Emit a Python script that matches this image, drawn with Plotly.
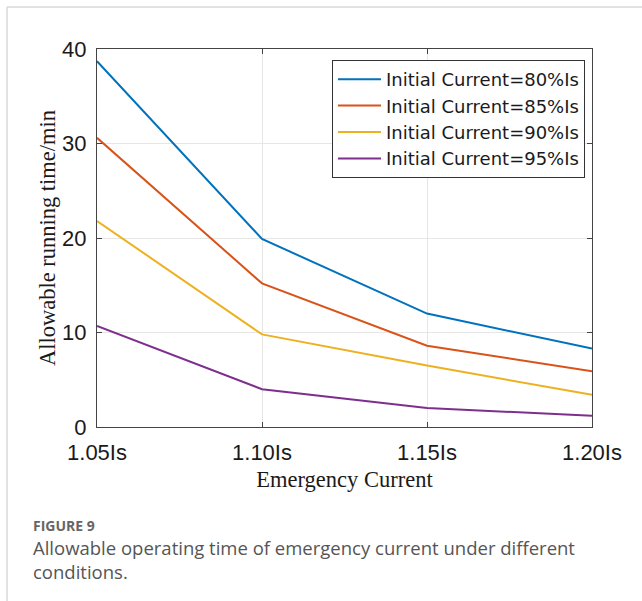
import plotly.graph_objects as go

x_vals = [1.05, 1.10, 1.15, 1.20]
x_ticktext = ["1.05Is", "1.10Is", "1.15Is", "1.20Is"]
y_ticks = [0, 10, 20, 30, 40]

names = ["Initial Current=80%Is", "Initial Current=85%Is",
         "Initial Current=90%Is", "Initial Current=95%Is"]
s80 = [38.7, 19.9, 12.0, 8.3]
s85 = [30.6, 15.2, 8.6, 5.9]
s90 = [21.8, 9.8, 6.5, 3.4]
s95 = [10.7, 4.0, 2.0, 1.2]
colors = ["#0072BD", "#D95319", "#EDB120", "#7E2F8E"]

W, H = 642, 601
L, R, T, B = 97, 592, 49, 427


def px(xp):
    return (xp - L) / (R - L)


def py(yp):
    return (B - yp) / (B - T)


fig = go.Figure()
for name, ys, c in zip(names, [s80, s85, s90, s95], colors):
    fig.add_trace(go.Scatter(x=x_vals, y=ys, mode="lines", name=name,
                             line=dict(color=c, width=2)))

axis_font = dict(family="Liberation Sans, Arial", size=22, color="#1a1a1a")
title_font = dict(family="Liberation Serif, Times New Roman", size=22.5, color="#1a1a1a")

fig.update_layout(
    width=W, height=H,
    margin=dict(l=L, r=W - R, t=T, b=H - B, pad=0),
    paper_bgcolor="white", plot_bgcolor="white",
    showlegend=True,
    legend=dict(x=px(332), y=py(60), xanchor="left", yanchor="top",
                bgcolor="white", bordercolor="#333333", borderwidth=1,
                font=dict(family="DejaVu Sans", size=18, color="#1a1a1a"),
                itemwidth=43, tracegroupgap=0),
    xaxis=dict(range=[1.05, 1.20], tickvals=x_vals, ticktext=x_ticktext,
               showgrid=True, gridcolor="#e6e6e6", gridwidth=1,
               showline=True, linecolor="#444444", linewidth=1, mirror="allticks",
               ticks="inside", ticklen=5, tickcolor="#444444",
               tickfont=axis_font, ticklabelstandoff=6, zeroline=False,
               title=dict(text="Emergency Current", font=title_font, standoff=6)),
    yaxis=dict(range=[0, 40], tickvals=y_ticks,
               showgrid=True, gridcolor="#e6e6e6", gridwidth=1,
               showline=True, linecolor="#444444", linewidth=1, mirror="allticks",
               ticks="inside", ticklen=5, tickcolor="#444444",
               tickfont=axis_font, ticklabelstandoff=5, zeroline=False,
               title=dict(text="Allowable running time/min", font=title_font, standoff=0)),
)

# card border (top and left)
fig.add_shape(type="line", xref="paper", yref="paper",
              x0=px(7), x1=px(W + 5), y0=py(7), y1=py(7),
              line=dict(color="#d9d9d9", width=1.5))
fig.add_shape(type="line", xref="paper", yref="paper",
              x0=px(7), x1=px(7), y0=py(7), y1=py(H + 5),
              line=dict(color="#d9d9d9", width=1.5))

cap_font = "Open Sans, Noto Sans, sans-serif"
fig.add_annotation(xref="paper", yref="paper", x=px(31), y=py(525),
                   xanchor="left", yanchor="middle", showarrow=False,
                   text="<b>FIGURE 9</b>",
                   font=dict(family=cap_font, size=14, color="#666666"))
fig.add_annotation(xref="paper", yref="paper", x=px(31), y=py(559),
                   xanchor="left", yanchor="middle", showarrow=False, align="left",
                   text="Allowable operating time of emergency current under different<br>conditions.",
                   font=dict(family=cap_font, size=18.5, color="#555555"))

fig.write_html("out.html")
